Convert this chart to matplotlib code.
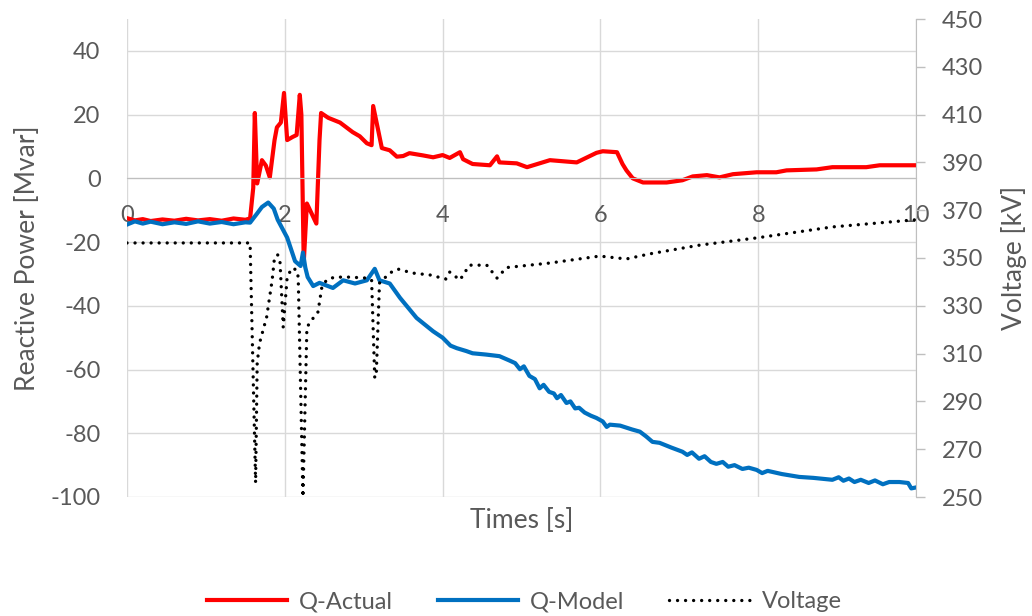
import numpy as np
import matplotlib.pyplot as plt

plt.rcParams['font.family'] = ['Lato', 'DejaVu Sans']
plt.rcParams['axes.unicode_minus'] = False

# measured reactive power (Mvar)
t_actual = [0.0, 0.1, 0.2, 0.3, 0.45, 0.6, 0.75, 0.9, 1.05, 1.2, 1.35, 1.5, 1.56,
            1.60, 1.62, 1.65, 1.71, 1.76, 1.81, 1.87, 1.90, 1.95, 1.99, 2.03, 2.10,
            2.15, 2.19, 2.21, 2.24, 2.28, 2.40, 2.44, 2.46, 2.55, 2.70, 2.86, 2.95,
            3.04, 3.10, 3.12, 3.23, 3.33, 3.42, 3.50, 3.58, 3.75, 3.88, 4.00, 4.09,
            4.22, 4.26, 4.38, 4.60, 4.69, 4.72, 4.94, 5.07, 5.36, 5.70, 5.95, 6.03,
            6.21, 6.28, 6.33, 6.41, 6.54, 6.84, 7.04, 7.17, 7.35, 7.51, 7.68, 7.98,
            8.23, 8.36, 8.74, 8.94, 9.37, 9.54, 10.0]
q_actual = [-12.5, -13.2, -12.8, -13.4, -12.9, -13.3, -12.7, -13.2, -12.8, -13.3, -12.6, -13.0, -12.6,
            -3.0, 20.5, -1.6, 5.7, 4.0, 0.3, 12.0, 16.0, 17.5, 26.8, 12.0, 13.0,
            13.6, 26.2, 20.0, -26.5, -7.9, -14.2, 12.0, 20.5, 19.0, 17.5, 14.5, 13.2,
            11.0, 10.4, 22.7, 9.5, 8.8, 6.8, 7.0, 7.9, 7.2, 6.6, 7.3, 6.4,
            8.2, 6.0, 4.5, 4.1, 6.9, 5.0, 4.7, 3.5, 5.7, 5.0, 8.0, 8.5,
            8.2, 4.5, 2.5, 0.0, -1.3, -1.3, -0.6, 0.6, 1.0, 0.3, 1.3, 1.9,
            1.9, 2.5, 2.8, 3.5, 3.5, 4.1, 4.1]

# simulated reactive power (Mvar)
t_model = [0.0, 0.1, 0.2, 0.3, 0.45, 0.6, 0.75, 0.9, 1.05, 1.2, 1.35, 1.5, 1.56,
           1.65, 1.71, 1.79, 1.86, 1.91, 2.03, 2.13, 2.20, 2.23, 2.26, 2.29,
           2.36, 2.44, 2.61, 2.74, 2.89, 3.04, 3.14, 3.20, 3.33, 3.46, 3.67, 3.88,
           4.00, 4.10, 4.18, 4.30, 4.38, 4.55, 4.72, 4.85, 4.92, 4.98, 5.03, 5.10,
           5.17, 5.23, 5.28, 5.35, 5.41, 5.45, 5.50, 5.57, 5.62, 5.68, 5.73, 5.80,
           5.88, 5.95, 6.03, 6.08, 6.12, 6.25, 6.40, 6.50, 6.58, 6.66, 6.75, 6.90,
           7.04, 7.10, 7.16, 7.25, 7.32, 7.40, 7.47, 7.55, 7.62, 7.70, 7.80, 7.88,
           7.98, 8.05, 8.12, 8.30, 8.52, 8.70, 8.94, 9.02, 9.08, 9.15, 9.22, 9.30,
           9.40, 9.48, 9.58, 9.66, 9.79, 9.90, 9.94, 10.0]
q_model = [-14.5, -13.5, -14.2, -13.6, -14.4, -13.8, -14.3, -13.5, -14.2, -13.7, -14.4, -13.8, -13.9,
           -11.0, -9.0, -7.6, -9.5, -13.0, -18.6, -26.0, -27.5, -23.3, -28.0, -31.0,
           -33.8, -32.8, -34.4, -32.0, -33.0, -32.0, -28.4, -32.0, -33.0, -37.5, -43.8, -48.0,
           -50.0, -52.5, -53.3, -54.2, -54.9, -55.3, -55.8, -57.2, -58.0, -59.9, -59.0, -62.0,
           -63.0, -65.9, -64.8, -67.0, -67.5, -69.0, -68.0, -70.5, -70.0, -72.2, -72.0, -73.5,
           -74.5, -75.2, -76.3, -78.0, -77.3, -77.6, -78.8, -79.5, -81.0, -82.7, -83.0, -84.5,
           -85.8, -86.8, -86.0, -88.0, -87.2, -89.0, -89.6, -89.0, -90.5, -90.0, -91.2, -90.8,
           -91.5, -92.5, -91.8, -92.8, -93.7, -94.0, -94.6, -93.8, -94.9, -94.2, -95.3, -94.6,
           -95.6, -94.8, -96.0, -95.3, -95.3, -95.6, -97.3, -97.0]

# bus voltage (kV)
t_volt = [0.0, 1.56, 1.63, 1.65, 1.68, 1.77, 1.84, 1.87, 1.91, 1.94, 1.98, 2.03, 2.09,
          2.15, 2.17, 2.23, 2.28, 2.34, 2.42, 2.47, 2.53, 2.63, 2.82, 3.04, 3.10,
          3.14, 3.16, 3.20, 3.33, 3.43, 3.62, 3.84, 4.04, 4.09, 4.22, 4.34, 4.56,
          4.69, 4.81, 5.36, 5.99, 6.33, 6.62, 7.26, 7.98, 8.94, 9.96, 10.0]
v_volt = [356.3, 356.3, 255.9, 306.0, 314.4, 325.3, 340.8, 350.4, 351.3, 348.0, 321.0, 342.0, 345.8,
          345.0, 342.0, 250.0, 321.0, 324.0, 327.4, 337.9, 340.8, 342.0, 342.0, 341.6, 340.8,
          299.8, 302.0, 339.5, 343.7, 345.4, 343.7, 342.9, 341.2, 344.1, 340.8, 347.0, 347.0,
          341.6, 346.0, 347.9, 350.8, 349.6, 351.7, 355.4, 358.4, 363.0, 365.9, 366.0]

x_ticks = [0, 2, 4, 6, 8, 10]
q_ticks = [-100, -80, -60, -40, -20, 0, 20, 40]
v_ticks = [250, 270, 290, 310, 330, 350, 370, 390, 410, 430, 450]

txt = '#595959'
grid = '#d9d9d9'
axcol = '#bfbfbf'
fs_tick = 17
fs_title = 19

fig = plt.figure(figsize=(10.32, 6.16), dpi=100)
ax = fig.add_axes([127/1032, 1-497/616, 789/1032, 478/616])
ax2 = ax.twinx()

l1, = ax.plot(t_actual, q_actual, color='#ff0000', lw=3, solid_joinstyle='round', label='Q-Actual')
l2, = ax.plot(t_model, q_model, color='#0070c0', lw=3, solid_joinstyle='round', label='Q-Model')
l3, = ax2.plot(t_volt, v_volt, color='black', lw=2.4, ls=(0, (0.01, 2.4)),
               dash_capstyle='round', label='Voltage')

ax.set_xlim(0, 10)
ax.set_ylim(-100, 50)
ax.set_xticks(x_ticks)
ax.set_yticks(q_ticks)
ax.grid(True, color=grid, lw=1)
ax.set_axisbelow(True)
for s in ['top', 'left', 'right']:
    ax.spines[s].set_visible(False)
ax.spines['bottom'].set_position(('data', 0))
ax.spines['bottom'].set_color(axcol)
ax.tick_params(axis='x', length=0, pad=19, colors=txt, labelsize=fs_tick)
ax.tick_params(axis='y', length=0, pad=19, colors=txt, labelsize=fs_tick)

ax2.set_ylim(250, 450)
ax2.set_yticks(v_ticks)
for s in ['top', 'left', 'bottom']:
    ax2.spines[s].set_visible(False)
ax2.spines['right'].set_color(axcol)
ax2.tick_params(axis='y', length=6.5, width=1, pad=12, colors=txt, labelsize=fs_tick)
ax2.tick_params(axis='y', color=axcol)

ax.set_xlabel('Times [s]', color=txt, fontsize=fs_title)
ax.xaxis.set_label_coords(0.5, -0.022)
ax.set_ylabel('Reactive Power [Mvar]', color=txt, fontsize=fs_title)
ax.yaxis.set_label_coords(-0.11, 0.5)
ax2.set_ylabel('Voltage [kV]', color=txt, fontsize=fs_title)
ax2.yaxis.set_label_coords(1.108, 0.5)

fig.legend(handles=[l1, l2, l3], loc='center', bbox_to_anchor=(0.508, 0.023), ncol=3,
           frameon=False, handlelength=3.4, handletextpad=0.5, columnspacing=1.9,
           labelcolor=txt, fontsize=fs_tick)

fig.savefig('out.png', dpi=100)
